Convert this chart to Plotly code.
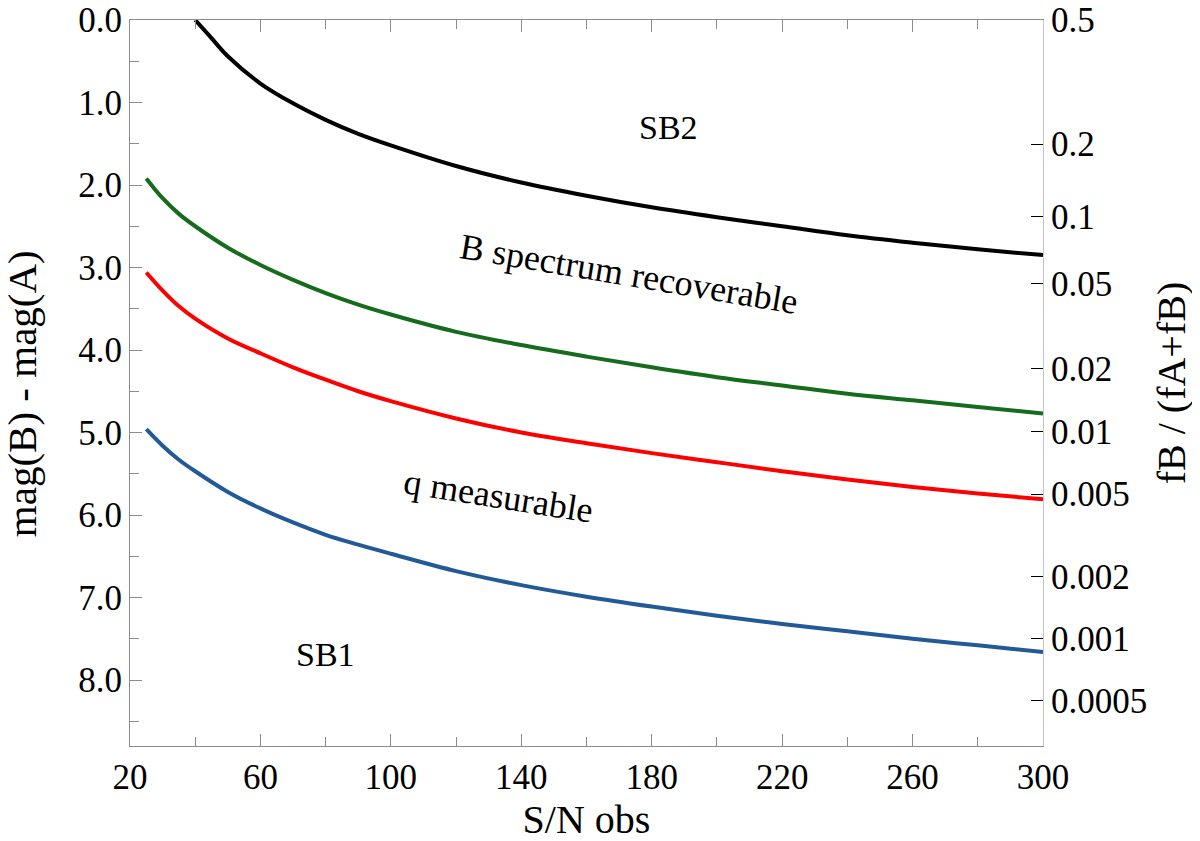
import numpy as np
import plotly.graph_objects as go

# S/N values along the x axis
sn = [25, 30, 35, 40, 50, 60, 70, 80, 90, 100, 120, 140, 160, 180, 200, 220, 240, 260, 280, 300]

# magnitude-difference limits
sb2_sn = [40, 45, 50, 60, 70, 80, 90, 100, 120, 140, 160, 180, 200, 220, 240, 260, 280, 300]
sb2_dm = [0.0, 0.22, 0.44, 0.77, 1.01, 1.21, 1.38, 1.52, 1.77, 1.97, 2.13, 2.27, 2.39, 2.50, 2.61, 2.70, 2.78, 2.85]
recov_dm = [1.92, 2.16, 2.35, 2.50, 2.76, 2.97, 3.15, 3.31, 3.45, 3.57, 3.78, 3.94, 4.08, 4.21, 4.33, 4.43, 4.53, 4.61, 4.69, 4.77]
q_dm = [3.06, 3.28, 3.47, 3.62, 3.86, 4.04, 4.21, 4.36, 4.50, 4.62, 4.83, 5.00, 5.13, 5.25, 5.36, 5.47, 5.57, 5.66, 5.74, 5.81]
sb1_dm = [4.96, 5.16, 5.33, 5.47, 5.72, 5.92, 6.09, 6.24, 6.36, 6.47, 6.68, 6.85, 6.99, 7.11, 7.22, 7.32, 7.41, 7.50, 7.58, 7.66]

# right axis: flux fraction labels
frac_labels = ["0.5", "0.2", "0.1", "0.05", "0.02", "0.01", "0.005", "0.002", "0.001", "0.0005"]

FONT = "Liberation Serif"
GRAY = "#8c8c8c"

fig = go.Figure()

fig.add_trace(go.Scatter(x=sb2_sn, y=sb2_dm, mode="lines", line=dict(color="black", width=4, shape="spline")))
fig.add_trace(go.Scatter(x=sn, y=recov_dm, mode="lines", line=dict(color="#156c1c", width=4, shape="spline")))
fig.add_trace(go.Scatter(x=sn, y=q_dm, mode="lines", line=dict(color="#ff0000", width=4, shape="spline")))
fig.add_trace(go.Scatter(x=sn, y=sb1_dm, mode="lines", line=dict(color="#225a98", width=4, shape="spline")))
# invisible copy so the right-hand axis gets drawn
fig.add_trace(go.Scatter(x=sn, y=sb1_dm, mode="lines", yaxis="y2", opacity=0, hoverinfo="skip"))

# magnitude position of each flux fraction: dm = 2.5 log10((1-f)/f)
frac = np.array([float(s) for s in frac_labels])
frac_pos = 2.5 * np.log10((1 - frac) / frac)

# label regions
labels = [
    ("SB2", 185, 1.30, 0, 34),
    ("B spectrum recoverable", 173, 3.08, 9.5, 36),
    ("q measurable", 133, 5.77, 9, 36),
    ("SB1", 80, 7.69, 0, 34),
]
for txt, x, y, ang, sz in labels:
    fig.add_annotation(x=x, y=y, text=txt, showarrow=False, textangle=ang,
                       font=dict(family=FONT, size=sz, color="black"))

# left axis title as an annotation so it can sit further out
fig.add_annotation(x=-0.118, y=0.485, xref="paper", yref="paper", text="mag(B) - mag(A)",
                   showarrow=False, textangle=-90, xanchor="center", yanchor="middle",
                   font=dict(family=FONT, size=41, color="black"))

fig.update_layout(
    width=1200, height=841,
    margin=dict(l=122, r=165, t=12, b=103),
    plot_bgcolor="white", paper_bgcolor="white",
    showlegend=False,
    font=dict(family=FONT, size=35, color="black"),
    xaxis=dict(
        range=[20, 300], tickvals=[20, 60, 100, 140, 180, 220, 260, 300],
        ticks="inside", ticklen=12, tickcolor=GRAY, tickwidth=1,
        minor=dict(dtick=20, tick0=20, ticks="inside", ticklen=9, tickcolor=GRAY),
        showline=True, linecolor=GRAY, linewidth=1, mirror="ticks",
        showgrid=False, zeroline=False, automargin=False,
        ticklabeloverflow="allow",
        title=dict(text="S/N obs", font=dict(size=40), standoff=8),
        tickfont=dict(size=35),
    ),
    yaxis=dict(
        range=[8.8, 0], tick0=0, dtick=1, tickformat=".1f",
        ticks="inside", ticklen=12, tickcolor=GRAY, tickwidth=1,
        minor=dict(dtick=0.5, ticks="inside", ticklen=9, tickcolor=GRAY),
        showline=True, linecolor=GRAY, linewidth=1,
        showgrid=False, zeroline=False, automargin=False,
        ticklabeloverflow="allow",
        tickfont=dict(size=35),
    ),
    yaxis2=dict(
        overlaying="y", side="right", range=[8.8, 0],
        tickvals=frac_pos, ticktext=frac_labels,
        ticks="inside", ticklen=12, tickcolor="black", tickwidth=1,
        showline=True, linecolor="#c8c8c8", linewidth=1,
        showgrid=False, zeroline=False, automargin=False,
        ticklabeloverflow="allow",
        title=dict(text="fB / (fA+fB)", font=dict(size=40), standoff=10),
        tickfont=dict(size=35),
    ),
)

fig.write_html("out.html")
